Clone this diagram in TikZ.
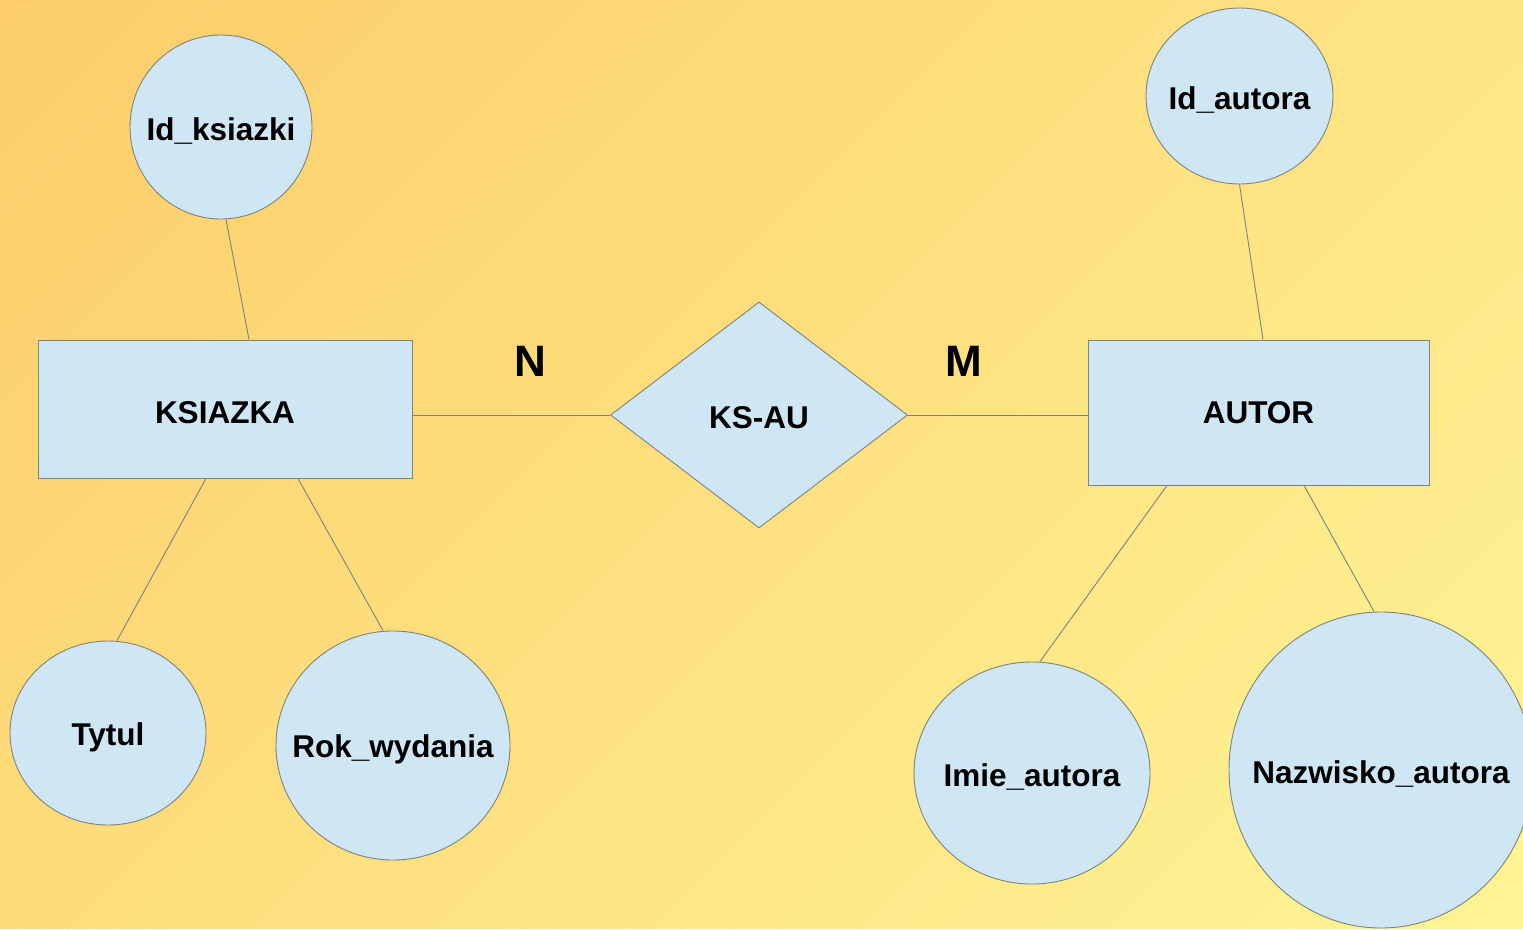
\documentclass[tikz,border=0pt]{standalone}
\usepackage{fontspec}
\setmainfont{Liberation Sans}
\usetikzlibrary{shapes.geometric}

\definecolor{bgwarm}{HTML}{FCCD6A}
\definecolor{bgpale}{HTML}{FFF495}
\definecolor{shapefill}{HTML}{CFE6F4}
\definecolor{edgegray}{HTML}{808080}

\tikzset{
  boxfont/.style={font=\fontsize{31.5}{36}\selectfont\bfseries},
  attrtext/.style={boxfont, inner sep=0pt, yshift=-4pt},
  attr/.style={ellipse, draw=edgegray, fill=shapefill, line width=0.9pt, inner sep=0pt},
  entity/.style={rectangle, draw=edgegray, fill=shapefill, line width=0.9pt, inner sep=0pt, boxfont},
  relation/.style={diamond, draw=edgegray, fill=shapefill, line width=0.9pt, inner sep=0pt, boxfont},
  card/.style={inner sep=0pt, font=\fontsize{44}{50}\selectfont\bfseries},
  link/.style={draw=edgegray, line width=0.9pt}
}

\begin{document}
\begin{tikzpicture}[x=1pt, y=-1pt]
  \useasboundingbox (0,0) rectangle (1523,929);

  % background: diagonal gradient built from thin bands (lines x+y = const)
  \begin{scope}
    \clip (0,0) rectangle (1523,929);
    \foreach \i in {0,...,95} {
      \pgfmathsetmacro{\sa}{\i*25.5417}
      \pgfmathsetmacro{\sb}{\sa+27}
      \pgfmathsetmacro{\pc}{\i*1.05263}
      \fill[bgpale!\pc!bgwarm] (\sa,0) -- (\sb,0) -- (\sb-929,929) -- (\sa-929,929) -- cycle;
    }
  \end{scope}

  % entities and relationship
  \node[entity, minimum width=374pt, minimum height=138pt,
        text height=29pt, text depth=0pt] (ks) at (225,409) {KSIAZKA};
  \node[entity, minimum width=341pt, minimum height=145pt] (au) at (1258.5,412.5) {AUTOR};
  \node[relation, minimum width=297pt, minimum height=226pt, aspect=1.314,
        text height=26.5pt, text depth=0pt] (ksau) at (759,415) {KS-AU};

  % attributes
  \node[attr, minimum width=182pt, minimum height=184pt,
        label={[attrtext]center:Id\_ksiazki}] (idk) at (221,127) {};
  \node[attr, minimum width=196pt, minimum height=184pt,
        label={[attrtext]center:Tytul}] (tyt) at (108,733) {};
  \node[attr, minimum width=234pt, minimum height=229pt,
        label={[attrtext]center:Rok\_wydania}] (rok) at (393,745.5) {};
  \node[attr, minimum width=187pt, minimum height=176pt,
        label={[attrtext]center:Id\_autora}] (ida) at (1239.5,96) {};
  \node[attr, minimum width=236pt, minimum height=222pt,
        label={[attrtext]center:Imie\_autora}] (imie) at (1032,773) {};
  \node[attr, minimum width=304pt, minimum height=316pt,
        label={[attrtext]center:Nazwisko\_autora}] (naz) at (1381,770) {};

  % cardinalities
  \node[card] (n) at (530,361) {N};
  \node[card] (m) at (964,361) {M};

  % connectors
  \draw[link] ([xshift=5pt]idk.south) -- ([xshift=24pt]ks.north);
  \draw[link] ([xshift=-19pt]ks.south) -- ([xshift=9pt]tyt.north);
  \draw[link] ([xshift=73pt]ks.south) -- ([xshift=-10pt]rok.north);
  \draw[link] (ksau.west -| ks.east) -- (ksau.west);
  \draw[link] (ksau.east) -- (ksau.east -| au.west);
  \draw[link] (ida.south) -- ([xshift=4.5pt]au.north);
  \draw[link] ([xshift=-91.5pt]au.south) -- ([xshift=8pt]imie.north);
  \draw[link] ([xshift=45.5pt]au.south) -- ([xshift=-7pt]naz.north);
\end{tikzpicture}
\end{document}
